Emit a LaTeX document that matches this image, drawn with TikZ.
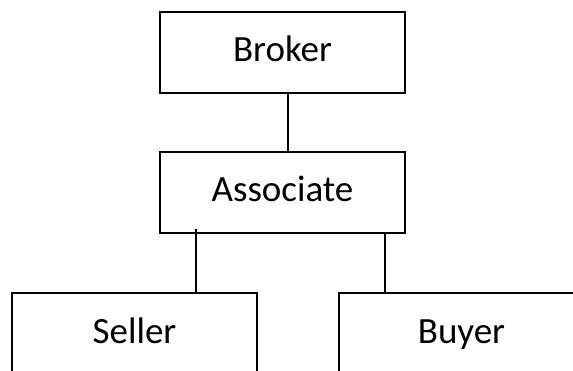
\documentclass[tikz,border=0pt]{standalone}
\usepackage{fontspec}
\setmainfont{Carlito}
\begin{document}
\begin{tikzpicture}[x=1pt, y=1pt, font=\fontsize{37}{44}\selectfont,
  rolebox/.style={draw, line width=1.5pt, minimum width=245pt, minimum height=81pt,
    inner sep=0pt, text height=26pt, text depth=7pt},
  link/.style={line width=1.5pt}]
% page frame, the bottom boxes run off the edge
\clip (0,0) rectangle (573,-371);

%--- TOP ---
\node[rolebox] (broker) at (282.5,-52.5) {Broker};

%--- MIDDLE ---
\node[rolebox] (associate) at (282.5,-192.5) {Associate};

%--- BOTTOM ---
\node[rolebox] (seller) at (134.5,-333.5) {Seller};
\node[rolebox] (buyer) at (461.5,-333.5) {Buyer};

%--- LINKS ---
\draw[link] ([xshift=5.5pt,yshift=2pt]broker.south) -- ([xshift=5.5pt]associate.north);
\draw[link] ([xshift=-86.5pt,yshift=5pt]associate.south) -- ([xshift=61.5pt]seller.north);
\draw[link] ([xshift=102.5pt]associate.south) -- ([xshift=-76.5pt]buyer.north);
\end{tikzpicture}
\end{document}
